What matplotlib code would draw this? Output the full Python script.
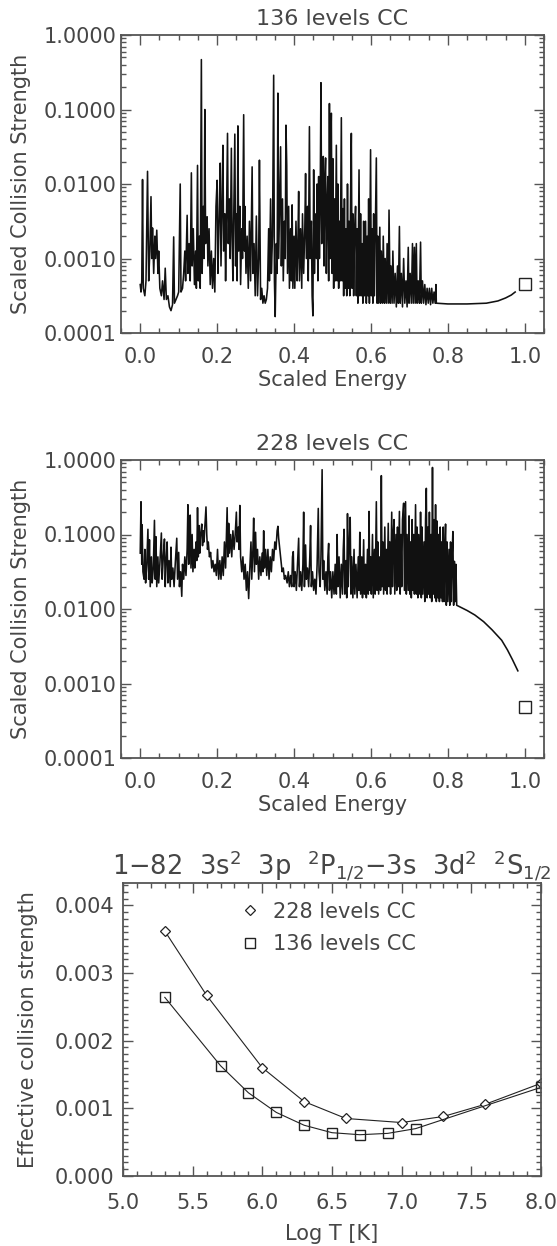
import numpy as np
import matplotlib.pyplot as plt
from matplotlib.ticker import FixedLocator, MultipleLocator, NullFormatter, FormatStrFormatter

plt.rcParams['font.family'] = ['DejaVu Sans']
plt.rcParams['mathtext.fontset'] = 'dejavusans'

INK = '#464646'
FS = 15

# 136 levels CC: (scaled energy, log10 scaled collision strength)
spectrum_136 = [
    (0.000, -3.35), (0.002, -3.45), (0.004, -3.30), (0.006, -1.94), (0.008, -3.40), (0.012, -3.50),
    (0.015, -3.30), (0.019, -1.83), (0.022, -3.30), (0.025, -2.90), (0.028, -2.17), (0.030, -3.00),
    (0.032, -2.59), (0.035, -3.20), (0.038, -2.70), (0.040, -3.00), (0.043, -2.62), (0.046, -3.20),
    (0.048, -2.90), (0.051, -3.40), (0.055, -3.50), (0.058, -3.30), (0.062, -3.55), (0.065, -3.13),
    (0.068, -3.55), (0.072, -3.50), (0.076, -3.65), (0.080, -3.70), (0.084, -3.62), (0.087, -2.71),
    (0.089, -3.60), (0.093, -3.55), (0.097, -3.50), (0.100, -3.45), (0.104, -2.00), (0.106, -3.45),
    (0.110, -3.40), (0.113, -3.20), (0.116, -2.90), (0.118, -3.30), (0.122, -2.42), (0.124, -3.20),
    (0.127, -2.80), (0.130, -3.30), (0.133, -1.85), (0.135, -3.10), (0.138, -2.60), (0.141, -3.35),
    (0.144, -2.90), (0.146, -3.40), (0.149, -1.75), (0.151, -3.30), (0.154, -2.70), (0.156, -3.40),
    (0.159, -0.33), (0.161, -3.20), (0.164, -2.30), (0.166, -3.00), (0.168, -1.00), (0.170, -2.80),
    (0.172, -2.50), (0.174, -2.44), (0.176, -3.10), (0.179, -2.60), (0.182, -3.35), (0.185, -2.90),
    (0.188, -3.40), (0.191, -3.00), (0.194, -3.45), (0.197, -2.30), (0.200, -1.95), (0.202, -3.20),
    (0.205, -2.50), (0.208, -1.72), (0.210, -3.10), (0.213, -2.20), (0.215, -1.48), (0.217, -2.90),
    (0.220, -2.40), (0.222, -3.30), (0.224, -2.60), (0.227, -1.32), (0.229, -2.80), (0.232, -2.20),
    (0.234, -3.00), (0.237, -1.52), (0.239, -2.70), (0.241, -3.30), (0.243, -2.50), (0.246, -1.33),
    (0.248, -3.10), (0.250, -2.40), (0.252, -3.30), (0.254, -1.22), (0.256, -2.90), (0.259, -2.30),
    (0.261, -3.35), (0.264, -2.60), (0.266, -3.00), (0.269, -1.07), (0.271, -2.90), (0.272, -2.30),
    (0.275, -3.20), (0.278, -2.70), (0.281, -3.40), (0.284, -2.50), (0.287, -3.30), (0.291, -1.77),
    (0.293, -3.20), (0.296, -2.80), (0.299, -3.50), (0.302, -2.43), (0.305, -3.50), (0.308, -3.00),
    (0.310, -1.68), (0.313, -3.55), (0.316, -3.40), (0.319, -3.60), (0.322, -3.50), (0.325, -3.60),
    (0.328, -3.55), (0.331, -3.40), (0.334, -2.60), (0.336, -3.30), (0.339, -2.20), (0.341, -3.20),
    (0.344, -2.70), (0.347, -0.54), (0.349, -3.30), (0.351, -3.78), (0.354, -2.80), (0.356, -3.20),
    (0.358, -0.78), (0.360, -3.00), (0.362, -2.40), (0.365, -1.50), (0.367, -3.10), (0.370, -2.20),
    (0.372, -3.30), (0.375, -2.50), (0.377, -3.00), (0.379, -1.21), (0.381, -1.75), (0.383, -3.20),
    (0.386, -2.30), (0.388, -3.40), (0.391, -2.60), (0.393, -3.30), (0.395, -2.28), (0.397, -3.40),
    (0.400, -2.70), (0.402, -3.40), (0.405, -2.50), (0.408, -3.30), (0.410, -2.80), (0.412, -2.10),
    (0.414, -3.30), (0.417, -2.60), (0.420, -3.40), (0.422, -2.40), (0.425, -3.20), (0.428, -2.60),
    (0.430, -1.86), (0.432, -3.00), (0.435, -2.30), (0.437, -3.30), (0.440, -1.23), (0.442, -3.00),
    (0.445, -2.50), (0.447, -3.50), (0.449, -3.77), (0.451, -1.81), (0.453, -3.20), (0.455, -2.40),
    (0.458, -3.00), (0.460, -2.00), (0.462, -3.30), (0.464, -1.90), (0.466, -3.00), (0.468, -2.20),
    (0.470, -0.64), (0.472, -2.80), (0.474, -1.80), (0.476, -1.63), (0.478, -3.10), (0.480, -2.00),
    (0.482, -1.65), (0.484, -3.20), (0.486, -2.30), (0.488, -1.90), (0.490, -3.30), (0.492, -0.92),
    (0.494, -3.00), (0.495, -1.70), (0.497, -1.05), (0.499, -3.20), (0.501, -1.66), (0.503, -3.40),
    (0.505, -2.20), (0.507, -3.30), (0.510, -1.48), (0.512, -3.30), (0.514, -2.00), (0.516, -3.40),
    (0.518, -2.50), (0.520, -3.30), (0.523, -1.11), (0.525, -3.30), (0.527, -2.33), (0.529, -3.50),
    (0.531, -2.20), (0.533, -3.40), (0.535, -2.60), (0.537, -3.50), (0.539, -2.00), (0.541, -3.40),
    (0.543, -2.50), (0.545, -3.50), (0.547, -2.20), (0.549, -1.32), (0.551, -3.40), (0.553, -2.40),
    (0.555, -3.50), (0.557, -2.70), (0.560, -2.30), (0.562, -3.50), (0.564, -2.60), (0.566, -3.60),
    (0.569, -1.81), (0.571, -3.50), (0.573, -2.40), (0.575, -3.50), (0.577, -2.80), (0.579, -3.60),
    (0.581, -2.50), (0.583, -3.50), (0.586, -2.50), (0.588, -3.60), (0.590, -2.70), (0.592, -3.50),
    (0.594, -2.20), (0.596, -3.60), (0.599, -1.54), (0.601, -3.50), (0.603, -2.60), (0.605, -3.60),
    (0.607, -2.40), (0.609, -3.50), (0.611, -2.80), (0.614, -1.65), (0.616, -3.60), (0.618, -2.70),
    (0.620, -3.60), (0.623, -2.58), (0.625, -3.60), (0.627, -2.90), (0.630, -3.60), (0.632, -2.70),
    (0.635, -3.60), (0.637, -3.00), (0.640, -3.60), (0.642, -2.80), (0.645, -3.60), (0.647, -2.35),
    (0.650, -3.60), (0.652, -3.10), (0.655, -3.60), (0.657, -2.90), (0.660, -3.60), (0.663, -3.20),
    (0.666, -3.65), (0.669, -3.10), (0.671, -3.60), (0.674, -2.57), (0.676, -3.60), (0.679, -3.20),
    (0.682, -3.65), (0.685, -3.00), (0.688, -3.60), (0.691, -3.30), (0.694, -3.65), (0.697, -2.85),
    (0.699, -3.60), (0.702, -3.20), (0.705, -3.60), (0.708, -2.80), (0.710, -3.60), (0.713, -2.85),
    (0.715, -3.60), (0.718, -2.80), (0.720, -3.60), (0.723, -3.30), (0.726, -3.60), (0.729, -2.78),
    (0.731, -3.60), (0.734, -3.30), (0.737, -3.60), (0.740, -3.35), (0.743, -3.62), (0.746, -3.40),
    (0.749, -3.60), (0.752, -3.40), (0.755, -3.62), (0.758, -3.40), (0.761, -3.60), (0.764, -3.45),
    (0.767, -3.60), (0.769, -3.35), (0.770, -3.60), (0.800, -3.61), (0.850, -3.61), (0.900, -3.60),
    (0.930, -3.57), (0.950, -3.53), (0.965, -3.49), (0.975, -3.45),
]

# 228 levels CC
spectrum_228 = [
    (0.000, -1.25), (0.002, -0.56), (0.004, -1.40), (0.005, -0.87), (0.007, -1.50), (0.010, -1.60),
    (0.012, -1.20), (0.014, -1.65), (0.017, -1.40), (0.020, -0.93), (0.022, -1.60), (0.024, -1.07),
    (0.026, -1.70), (0.029, -1.30), (0.031, -1.65), (0.034, -1.45), (0.037, -0.81), (0.039, -1.60),
    (0.041, -1.03), (0.043, -1.70), (0.046, -1.30), (0.048, -1.65), (0.051, -1.40), (0.055, -0.98),
    (0.057, -1.60), (0.060, -1.30), (0.063, -1.06), (0.065, -1.70), (0.067, -1.40), (0.070, -1.10),
    (0.072, -1.65), (0.075, -1.35), (0.078, -1.70), (0.080, -1.17), (0.082, -1.60), (0.085, -1.45),
    (0.088, -1.70), (0.091, -1.40), (0.095, -1.05), (0.097, -1.60), (0.100, -1.24), (0.102, -1.70),
    (0.105, -1.50), (0.108, -1.83), (0.110, -1.40), (0.113, -1.60), (0.116, -1.30), (0.119, -1.55),
    (0.122, -1.20), (0.124, -0.60), (0.126, -1.40), (0.128, -1.10), (0.130, -0.74), (0.132, -1.45),
    (0.135, -1.00), (0.137, -1.50), (0.140, -1.20), (0.142, -1.45), (0.145, -1.10), (0.147, -1.35),
    (0.149, -0.64), (0.151, -1.30), (0.153, -0.88), (0.155, -1.25), (0.157, -1.00), (0.160, -0.86),
    (0.162, -1.15), (0.164, -0.95), (0.166, -1.10), (0.168, -0.90), (0.171, -0.63), (0.173, -1.00),
    (0.175, -1.20), (0.177, -1.10), (0.180, -1.30), (0.183, -1.24), (0.186, -1.45), (0.189, -1.35),
    (0.192, -1.50), (0.195, -1.40), (0.198, -1.55), (0.201, -1.20), (0.204, -1.60), (0.207, -1.35),
    (0.210, -1.60), (0.213, -1.30), (0.216, -1.55), (0.219, -1.10), (0.222, -1.45), (0.226, -0.64),
    (0.228, -1.30), (0.230, -0.85), (0.232, -1.25), (0.235, -1.00), (0.238, -1.30), (0.241, -0.95),
    (0.244, -1.20), (0.247, -1.00), (0.250, -0.70), (0.252, -1.10), (0.255, -0.90), (0.257, -1.20),
    (0.259, -0.61), (0.261, -1.30), (0.264, -1.50), (0.267, -1.30), (0.270, -1.60), (0.273, -1.40),
    (0.276, -1.75), (0.279, -1.50), (0.282, -1.86), (0.285, -1.45), (0.288, -1.10), (0.290, -1.60),
    (0.293, -1.20), (0.295, -0.78), (0.297, -1.50), (0.300, -0.97), (0.302, -1.40), (0.305, -1.20),
    (0.308, -1.60), (0.311, -1.30), (0.314, -1.55), (0.317, -1.25), (0.319, -1.50), (0.321, -0.95),
    (0.323, -1.45), (0.326, -1.20), (0.329, -1.55), (0.332, -1.20), (0.335, -1.60), (0.338, -1.30),
    (0.341, -1.50), (0.344, -1.20), (0.347, -1.35), (0.350, -1.10), (0.353, -1.20), (0.356, -0.95),
    (0.358, -0.89), (0.360, -1.05), (0.363, -1.20), (0.366, -1.35), (0.369, -1.50), (0.372, -1.45),
    (0.375, -1.60), (0.378, -1.55), (0.382, -1.65), (0.385, -1.50), (0.388, -1.70), (0.391, -1.55),
    (0.394, -1.70), (0.396, -1.30), (0.398, -1.23), (0.400, -1.70), (0.403, -1.50), (0.406, -1.75),
    (0.409, -1.40), (0.412, -1.05), (0.414, -1.70), (0.417, -1.50), (0.420, -1.75), (0.423, -1.40),
    (0.425, -0.70), (0.427, -1.70), (0.430, -1.14), (0.432, -1.60), (0.435, -1.45), (0.438, -1.70),
    (0.441, -1.30), (0.443, -0.88), (0.445, -1.70), (0.448, -1.50), (0.451, -1.75), (0.454, -1.60),
    (0.457, -1.80), (0.460, -1.40), (0.463, -0.65), (0.465, -1.50), (0.468, -1.70), (0.470, -1.30),
    (0.473, -0.13), (0.475, -1.60), (0.477, -1.35), (0.480, -1.75), (0.483, -1.50), (0.486, -1.80),
    (0.488, -1.30), (0.490, -1.12), (0.492, -1.75), (0.495, -1.50), (0.498, -1.85), (0.501, -1.50),
    (0.504, -1.80), (0.507, -1.40), (0.510, -1.80), (0.512, -1.00), (0.514, -1.70), (0.517, -1.30),
    (0.520, -1.85), (0.523, -1.40), (0.526, -1.80), (0.528, -1.20), (0.530, -0.93), (0.532, -1.80),
    (0.535, -1.35), (0.537, -1.85), (0.539, -0.72), (0.541, -1.70), (0.543, -1.20), (0.546, -0.77),
    (0.548, -1.80), (0.550, -1.30), (0.553, -1.85), (0.556, -1.20), (0.558, -1.80), (0.561, -1.40),
    (0.564, -1.85), (0.567, -1.30), (0.569, -1.75), (0.571, -0.97), (0.573, -1.80), (0.576, -1.30),
    (0.578, -1.85), (0.581, -1.07), (0.583, -1.80), (0.586, -1.40), (0.588, -1.85), (0.591, -1.20),
    (0.593, -1.80), (0.595, -0.69), (0.597, -1.75), (0.599, -1.30), (0.601, -1.80), (0.604, -1.00),
    (0.606, -1.85), (0.609, -1.20), (0.611, -1.80), (0.614, -0.56), (0.616, -1.75), (0.618, -1.10),
    (0.620, -1.80), (0.623, -1.30), (0.625, -1.75), (0.627, -0.21), (0.629, -1.70), (0.631, -1.10),
    (0.633, -1.80), (0.636, -0.90), (0.638, -1.75), (0.640, -1.20), (0.642, -1.80), (0.645, -0.85),
    (0.647, -1.70), (0.649, -1.10), (0.651, -1.80), (0.654, -0.70), (0.656, -1.70), (0.658, -1.00),
    (0.660, -0.80), (0.662, -1.80), (0.665, -1.00), (0.667, -1.75), (0.669, -0.90), (0.671, -1.70),
    (0.674, -0.69), (0.676, -1.80), (0.678, -1.00), (0.680, -1.70), (0.682, -0.80), (0.685, -0.58),
    (0.687, -1.75), (0.689, -0.90), (0.690, -0.56), (0.692, -1.80), (0.694, -1.00), (0.697, -1.75),
    (0.699, -0.75), (0.701, -1.80), (0.703, -1.10), (0.705, -1.85), (0.707, -0.80), (0.709, -1.75),
    (0.711, -1.00), (0.713, -1.80), (0.716, -0.60), (0.718, -1.80), (0.720, -0.90), (0.722, -1.85),
    (0.724, -1.00), (0.727, -1.80), (0.729, -0.70), (0.731, -1.85), (0.733, -0.90), (0.735, -1.80),
    (0.738, -1.10), (0.740, -1.90), (0.742, -0.80), (0.744, -0.38), (0.746, -1.85), (0.748, -0.90),
    (0.750, -1.80), (0.752, -0.70), (0.754, -1.85), (0.756, -1.00), (0.758, -1.90), (0.760, -0.10),
    (0.762, -1.80), (0.764, -0.80), (0.766, -1.85), (0.768, -0.60), (0.770, -1.90), (0.772, -0.82),
    (0.774, -1.85), (0.776, -1.00), (0.778, -1.90), (0.780, -0.90), (0.782, -1.85), (0.784, -1.10),
    (0.786, -1.90), (0.788, -0.90), (0.790, -1.90), (0.792, -1.20), (0.794, -0.86), (0.796, -1.95),
    (0.798, -1.10), (0.800, -1.90), (0.803, -1.20), (0.805, -1.95), (0.807, -1.10), (0.809, -1.90),
    (0.811, -1.30), (0.813, -0.96), (0.815, -1.95), (0.817, -1.36), (0.819, -1.90), (0.821, -1.40),
    (0.823, -1.95), (0.850, -2.02), (0.870, -2.08), (0.893, -2.17), (0.915, -2.28), (0.940, -2.42),
    (0.955, -2.55), (0.968, -2.68), (0.982, -2.83),
]

# high-energy limit points (square symbols at E = 1)
limit_energy = [1.0]
limit_136 = [4.5e-4]
limit_228 = [4.8e-4]

# effective collision strengths for 1-82
logt_228 = [5.3, 5.6, 6.0, 6.3, 6.6, 7.0, 7.3, 7.6, 8.0]
ups_228 = [0.00362, 0.00267, 0.00160, 0.00110, 0.00085, 0.00079, 0.00088, 0.00106, 0.00137]
logt_136 = [5.3, 5.7, 5.9, 6.1, 6.3, 6.5, 6.7, 6.9, 7.1, 8.0]
ups_136 = [0.00264, 0.00163, 0.00123, 0.00094, 0.00075, 0.00064, 0.00061, 0.00063, 0.00070, 0.00131]


def style_axes(ax):
    for s in ax.spines.values():
        s.set_color('#555555')
        s.set_linewidth(1.3)
    ax.tick_params(which='both', direction='in', top=True, right=True,
                   colors='#555555', labelcolor=INK, labelsize=FS, width=1.0)
    ax.tick_params(which='major', length=7)
    ax.tick_params(which='minor', length=3.5)


def spectrum_panel(ax, spectrum, limit, title):
    e, lw = np.array(spectrum).T
    ax.plot(e, 10.0 ** lw, color='#111111', lw=1.15)
    ax.plot(limit_energy, limit, ls='none', marker='s', ms=8, mfc='none',
            mec='#222222', mew=1.0)
    ax.set_yscale('log')
    ax.set_xlim(-0.05, 1.05)
    ax.set_ylim(1e-4, 1.0)
    ax.xaxis.set_major_locator(MultipleLocator(0.2))
    ax.xaxis.set_minor_locator(MultipleLocator(0.05))
    ax.xaxis.set_major_formatter(FormatStrFormatter('%.1f'))
    ax.yaxis.set_major_locator(FixedLocator([1e-4, 1e-3, 1e-2, 1e-1, 1.0]))
    minors = [m * 10.0 ** d for d in range(-4, 0) for m in range(2, 10)]
    ax.yaxis.set_minor_locator(FixedLocator(minors))
    ax.yaxis.set_minor_formatter(NullFormatter())
    ax.yaxis.set_major_formatter(FormatStrFormatter('%.4f'))
    style_axes(ax)
    ax.tick_params(axis='x', pad=10)
    ax.tick_params(axis='y', pad=3)
    ax.set_title(title, fontsize=FS + 1, color=INK, pad=7)
    ax.set_xlabel('Scaled Energy', fontsize=FS, color=INK, labelpad=2)
    ax.set_ylabel('Scaled Collision Strength', fontsize=FS, color=INK, labelpad=9)


fig = plt.figure(figsize=(5.57, 12.46), dpi=100)
W, H = 557.0, 1246.0

ax1 = fig.add_axes([121 / W, 1 - 333 / H, 423 / W, 298 / H])
spectrum_panel(ax1, spectrum_136, limit_136, '136 levels CC')

ax2 = fig.add_axes([121 / W, 1 - 758 / H, 423 / W, 298 / H])
spectrum_panel(ax2, spectrum_228, limit_228, '228 levels CC')

ax3 = fig.add_axes([123 / W, 1 - 1176 / H, 418 / W, 293 / H])
ax3.plot(logt_228, ups_228, color='#222222', lw=0.8, marker='D', ms=5.5,
         mfc='white', mec='#222222', mew=0.9, label='228 levels CC')
ax3.plot(logt_136, ups_136, color='#222222', lw=0.8, marker='s', ms=7.5,
         mfc='none', mec='#222222', mew=1.0, label='136 levels CC')
ax3.set_xlim(5.0, 8.0)
ax3.set_ylim(0.0, 0.00433)
ax3.xaxis.set_major_locator(MultipleLocator(0.5))
ax3.xaxis.set_minor_locator(MultipleLocator(0.1))
ax3.xaxis.set_major_formatter(FormatStrFormatter('%.1f'))
ax3.yaxis.set_major_locator(MultipleLocator(0.001))
ax3.yaxis.set_minor_locator(MultipleLocator(0.0001))
ax3.yaxis.set_major_formatter(FormatStrFormatter('%.3f'))
style_axes(ax3)
ax3.tick_params(axis='x', pad=12)
ax3.tick_params(axis='y', pad=6)
ax3.set_xlabel('Log T [K]', fontsize=FS, color=INK, labelpad=8)
ax3.set_ylabel('Effective collision strength', fontsize=FS, color=INK, labelpad=12)
ax3.set_title(r'1$-$82  3s$^2$  3p  $^2$P$_{1/2}$$-$3s  3d$^2$  $^2$S$_{1/2}$',
              fontsize=18.5, color=INK, pad=3)
leg = ax3.legend(loc='upper left', bbox_to_anchor=(0.255, 0.965), frameon=False,
                 handlelength=1.2, handletextpad=0.5, labelspacing=0.6,
                 borderaxespad=0, fontsize=FS)
for t in leg.get_texts():
    t.set_color(INK)
for h in leg.legend_handles:
    h.set_linestyle('none')

fig.savefig('out.png', dpi=100)
